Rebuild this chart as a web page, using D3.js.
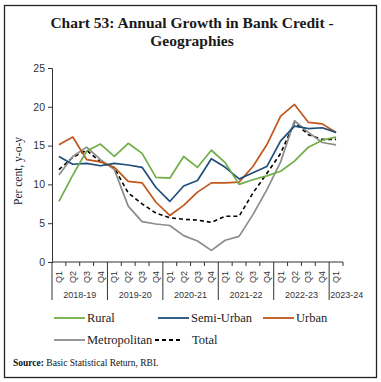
<!DOCTYPE html>
<html>
<head>
<meta charset="utf-8">
<script src="https://cdn.jsdelivr.net/npm/d3@7"></script>
<style>
  body { margin: 0; background: #fff; }
  svg { display: block; }
  .tick text { fill: #333; font-family: "Liberation Sans", Arial, sans-serif; }
</style>
</head>
<body>
<script>
// quarters and the fiscal years they belong to
var years = ['2018-19', '2019-20', '2020-21', '2021-22', '2022-23', '2023-24'];
var quarters = [];
years.forEach(function(y) {
  ['Q1', 'Q2', 'Q3', 'Q4'].forEach(function(q) {
    if (y === '2023-24' && q !== 'Q1') return;
    quarters.push(y + ' ' + q);
  });
});

var yTicks = [0, 5, 10, 15, 20, 25];

var rural =        [7.8, 11.2, 14.3, 15.2, 13.6, 15.3, 14.0, 10.9, 10.8, 13.6, 12.2, 14.4, 12.8, 10.0, 10.6, 11.1, 11.7, 13.0, 14.8, 15.7, 16.1];
var semiUrban =    [13.6, 12.6, 12.7, 12.4, 12.7, 12.5, 12.2, 9.6, 7.8, 9.8, 10.5, 13.3, 12.2, 10.7, 11.5, 12.3, 15.6, 17.5, 17.2, 17.3, 16.7];
var urban =        [15.1, 16.1, 13.2, 12.9, 12.2, 10.4, 10.2, 7.7, 6.0, 7.3, 9.0, 10.2, 10.2, 10.3, 12.3, 15.1, 18.8, 20.3, 18.0, 17.8, 16.7];
var metropolitan = [11.2, 13.6, 14.8, 13.2, 11.9, 7.2, 5.2, 4.9, 4.7, 3.4, 2.7, 1.5, 2.8, 3.3, 6.1, 9.3, 12.9, 18.2, 16.7, 15.4, 15.1];
var total =        [11.9, 13.5, 14.4, 12.9, 12.1, 8.9, 7.5, 6.3, 5.7, 5.5, 5.4, 5.1, 5.9, 5.9, 8.9, 11.4, 14.0, 18.0, 16.4, 15.8, 15.8];

var series = [
  { name: 'Rural', values: rural, color: '#70ad47', dash: null },
  { name: 'Semi-Urban', values: semiUrban, color: '#1f4e79', dash: null },
  { name: 'Urban', values: urban, color: '#c0561a', dash: null },
  { name: 'Metropolitan', values: metropolitan, color: '#8c8c8c', dash: null },
  { name: 'Total', values: total, color: '#000', dash: '4,3' }
];

var W = 381, H = 382;
var margin = { left: 52, top: 68, right: 38, bottom: 120 };
var innerW = W - margin.left - margin.right,
    innerH = H - margin.top - margin.bottom;

var svg = d3.select('body').append('svg')
    .attr('width', W)
    .attr('height', H);

// frame
svg.append('rect')
    .attr('x', 4.5).attr('y', 5.5)
    .attr('width', 372).attr('height', 372)
    .attr('fill', 'none')
    .attr('stroke', '#222')
    .attr('stroke-width', 1.3);

var title = svg.append('text')
    .attr('text-anchor', 'middle')
    .attr('font-family', '"Liberation Serif", "Times New Roman", serif')
    .attr('font-weight', 'bold')
    .attr('font-size', 15.5)
    .attr('fill', '#1a1a1a');
title.append('tspan').attr('x', 192).attr('y', 28).text('Chart 53: Annual Growth in Bank Credit -');
title.append('tspan').attr('x', 192).attr('y', 46).text('Geographies');

var g = svg.append('g')
    .attr('transform', 'translate(' + margin.left + ',' + margin.top + ')');

var x = d3.scaleBand().domain(quarters).range([0, innerW]);
var y = d3.scaleLinear().domain([0, 25]).range([innerH, 0]);

// y axis
var yAxis = g.append('g')
    .call(d3.axisLeft(y).tickValues(yTicks).tickSize(4).tickPadding(3));
yAxis.select('.domain').attr('stroke', '#333');
yAxis.selectAll('.tick line').attr('stroke', '#333');
yAxis.selectAll('.tick text').attr('font-size', 10.5);

svg.append('text')
    .attr('transform', 'translate(22,' + (margin.top + innerH / 2 + 6) + ') rotate(-90)')
    .attr('text-anchor', 'middle')
    .attr('font-family', '"Liberation Serif", "Times New Roman", serif')
    .attr('font-size', 11.5)
    .attr('fill', '#222')
    .text('Per cent, y-o-y');

// x axis: quarter labels, ticks at category edges
var xAxis = g.append('g')
    .attr('transform', 'translate(0,' + innerH + ')');
xAxis.append('line')
    .attr('x1', 0).attr('x2', innerW)
    .attr('stroke', '#333');
xAxis.selectAll('.qtick')
  .data(quarters.concat(['end']))
  .enter().append('line')
    .attr('class', 'qtick')
    .attr('x1', function(d, i) { return i * x.bandwidth(); })
    .attr('x2', function(d, i) { return i * x.bandwidth(); })
    .attr('y1', 0)
    .attr('y2', function(d, i) { return (i % 4 === 0 && i < quarters.length) ? 38 : 4; })
    .attr('stroke', '#333');
xAxis.selectAll('.qlabel')
  .data(quarters)
  .enter().append('text')
    .attr('class', 'qlabel')
    .attr('transform', function(d) {
      return 'translate(' + (x(d) + x.bandwidth() / 2 + 3) + ',15) rotate(-90)';
    })
    .attr('text-anchor', 'middle')
    .attr('font-family', '"Liberation Sans", Arial, sans-serif')
    .attr('font-size', 9)
    .attr('fill', '#333')
    .text(function(d) { return d.split(' ')[1]; });
xAxis.selectAll('.ylabel')
  .data(years)
  .enter().append('text')
    .attr('class', 'ylabel')
    .attr('x', function(d) {
      var qs = quarters.filter(function(q) { return q.indexOf(d) === 0; });
      if (qs.length < 4) return x(qs[0]) + 1;
      return x(qs[0]) + qs.length * x.bandwidth() / 2;
    })
    .attr('y', 36)
    .attr('text-anchor', function(d) {
      return quarters.filter(function(q) { return q.indexOf(d) === 0; }).length < 4 ? 'start' : 'middle';
    })
    .attr('font-family', '"Liberation Sans", Arial, sans-serif')
    .attr('font-size', 9)
    .attr('fill', '#333')
    .text(function(d) { return d; });

// lines
var line = d3.line()
    .x(function(d, i) { return x(quarters[i]) + x.bandwidth() / 2; })
    .y(function(d) { return y(d); });

g.selectAll('.series')
  .data(series.slice().reverse())
  .enter().append('path')
    .attr('class', 'series')
    .attr('d', function(d) { return line(d.values); })
    .attr('fill', 'none')
    .attr('stroke', function(d) { return d.color; })
    .attr('stroke-width', function(d) { return d.dash ? 1.6 : 1.7; })
    .attr('stroke-dasharray', function(d) { return d.dash; })
    .attr('stroke-linejoin', 'round');

// legend
var legendPos = [
  { x: 54, y: 318 }, { x: 158, y: 318 }, { x: 263, y: 318 },
  { x: 54, y: 340 }, { x: 155, y: 340 }
];
var legend = svg.selectAll('.legend')
  .data(series)
  .enter().append('g')
    .attr('class', 'legend')
    .attr('transform', function(d, i) { return 'translate(' + legendPos[i].x + ',' + legendPos[i].y + ')'; });
legend.append('line')
    .attr('x1', 0).attr('x2', function(d) { return d.dash ? 26 : 31; })
    .attr('stroke', function(d) { return d.color; })
    .attr('stroke-width', 1.8)
    .attr('stroke-dasharray', function(d) { return d.dash; });
legend.append('text')
    .attr('x', function(d) { return d.dash ? 37 : 33; })
    .attr('y', 4)
    .attr('font-family', '"Liberation Serif", "Times New Roman", serif')
    .attr('font-size', 12.5)
    .attr('fill', '#222')
    .text(function(d) { return d.name; });

// source note
var src = svg.append('text')
    .attr('x', 13).attr('y', 366)
    .attr('font-family', '"Liberation Serif", "Times New Roman", serif')
    .attr('font-size', 9.5)
    .attr('fill', '#111');
src.append('tspan').attr('font-weight', 'bold').text('Source:');
src.append('tspan').text(' Basic Statistical Return, RBI.');
</script>
</body>
</html>
